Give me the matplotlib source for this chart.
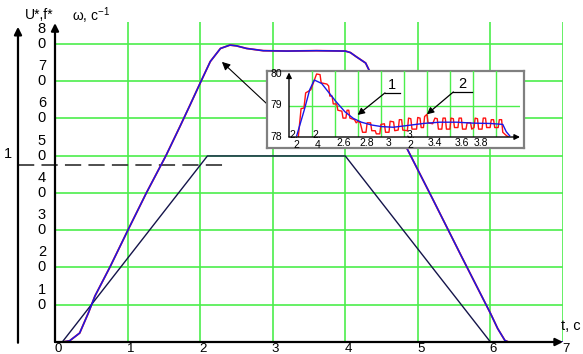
import matplotlib
matplotlib.use("Agg")
import matplotlib.pyplot as plt

plt.rcParams['font.family'] = ['Liberation Sans', 'DejaVu Sans']
plt.rcParams['mathtext.default'] = 'regular'

# speed omega, rad/s, during start, steady run and braking
t_w = [0.0, 0.1, 0.2, 0.34, 0.46, 0.55, 0.76, 1.01, 1.26, 1.53, 1.72, 1.86, 2.0,
       2.14, 2.28, 2.41, 2.5, 2.64, 2.87, 3.2, 3.6, 4.0, 4.07, 4.15, 4.28, 4.34,
       4.5, 4.86, 5.2, 5.6, 6.0, 6.1, 6.2, 6.25, 7.0]
w = [0, 0, 0.3, 2.4, 7.8, 12.3, 20.2, 30.2, 40, 50, 57.7, 63.5, 69.4,
     75.2, 78.7, 79.6, 79.4, 78.7, 78.1, 78.0, 78.1, 78.0, 77.6, 76.5, 74.8, 72.4,
     65.5, 51.5, 38.5, 23.0, 7.7, 3.6, 0.4, 0, 0]

# voltage / frequency reference U*, f* (per unit)
t_u = [0.1, 2.1, 4.0, 6.0]
u = [0, 1.05, 1.05, 0]
u_scale = 47.5  # omega units per 1 p.u.

# zoomed part of the plateau: 1 - blue, 2 - red
ti_b = [2.267, 2.30, 2.333, 2.38, 2.42, 2.484, 2.54, 2.61, 2.687, 2.76, 2.83,
        2.92, 3.006, 3.107, 3.22, 3.37, 3.51, 3.66, 3.80, 3.95, 4.06, 4.09, 4.12]
wi_b = [78.04, 78.45, 78.86, 79.5, 79.81, 79.7, 79.44, 79.12, 78.8, 78.59, 78.47,
        78.38, 78.33, 78.31, 78.36, 78.43, 78.47, 78.47, 78.44, 78.43, 78.40, 78.17, 78.04]

ti_r = [2.281, 2.305, 2.33, 2.345, 2.39, 2.41, 2.44, 2.47, 2.48, 2.53, 2.545,
        2.555, 2.575, 2.585, 2.615, 2.625, 2.66, 2.67, 2.695, 2.705, 2.72, 2.73,
        2.77, 2.785, 2.8, 2.82, 2.84, 2.87, 2.88, 2.91, 2.92, 2.95, 2.96, 2.99,
        3.0, 3.03, 3.04, 3.07, 3.08, 3.11, 3.12, 3.15, 3.16, 3.18, 3.19, 3.23,
        3.24, 3.26, 3.27, 3.31, 3.32, 3.34, 3.35, 3.37, 3.38, 3.40, 3.41, 3.45,
        3.47, 3.49, 3.50, 3.53, 3.54, 3.56, 3.57, 3.60, 3.61, 3.63, 3.64, 3.67,
        3.68, 3.70, 3.71, 3.74, 3.75, 3.78, 3.79, 3.81, 3.82, 3.84, 3.85, 3.88,
        3.89, 3.91, 3.92, 3.95, 3.96, 3.98, 3.99, 4.02, 4.03, 4.05, 4.06, 4.09, 4.11]
wi_r = [78.0, 78.9, 78.92, 79.4, 79.5, 79.7, 80.0, 79.98, 79.72, 79.68, 79.62,
        79.3, 79.3, 79.05, 79.05, 78.85, 78.82, 78.6, 78.6, 78.85, 78.85, 78.6,
        78.55, 78.45, 78.5, 78.45, 78.15, 78.15, 78.45, 78.45, 78.2, 78.2, 78.1, 78.1,
        78.4, 78.42, 78.15, 78.15, 78.5, 78.48, 78.2, 78.22, 78.55, 78.55, 78.22, 78.2,
        78.6, 78.58, 78.25, 78.25, 78.62, 78.6, 78.3, 78.3, 78.65, 78.72, 78.45, 78.42,
        78.6, 78.58, 78.25, 78.25, 78.6, 78.6, 78.25, 78.25, 78.6, 78.58, 78.3, 78.3,
        78.6, 78.6, 78.25, 78.25, 78.45, 78.45, 78.25, 78.3, 78.6, 78.58, 78.25, 78.25,
        78.6, 78.6, 78.3, 78.3, 78.55, 78.55, 78.3, 78.3, 78.55, 78.55, 78.15, 78.05, 78.0]

x_ticks = [0, 1, 2, 3, 4, 5, 6, 7]
y_ticks = [10, 20, 30, 40, 50, 60, 70, 80]
inset_xt = [2.4, 2.6, 2.8, 3.0, 3.2, 3.4, 3.6, 3.8, 4.0]
inset_yt = [78, 79, 80]

green = '#4cee4c'
navy = '#14144a'

fig = plt.figure(figsize=(5.83, 3.54), dpi=100)
ax = fig.add_axes([55 / 583, 1 - 342 / 354, 508 / 583, 320 / 354])
ax.set_xlim(0, 7)
ax.set_ylim(0, 320 / 3.73)
ax.set_xticks(x_ticks[1:])
ax.set_yticks(y_ticks)
ax.grid(True, color=green, lw=1.2)
ax.tick_params(length=0, labelleft=False, labelbottom=False)
for s in ax.spines.values():
    s.set_visible(False)

# curves
ax.plot(t_w, w, color='#ff1010', lw=1.3, zorder=3)
ax.plot(t_w, w, color='#1818e8', lw=1.1, zorder=4)
ax.plot(t_u, [v * u_scale for v in u], color=navy, lw=1.0, zorder=3)
ax.plot([-0.51, 2.34], [u_scale, u_scale], color='#404040', lw=1.3,
        dashes=(9, 4), clip_on=False, zorder=2)

# axes with arrows
arr = dict(arrowstyle='-|>', color='black', lw=1.6, mutation_scale=11, shrinkA=0, shrinkB=0)
ax.annotate('', xy=(0, 85.5), xytext=(0, 0), arrowprops=arr, annotation_clip=False, zorder=5)
ax.annotate('', xy=(-0.51, 84.5), xytext=(-0.51, -0.2), arrowprops=arr, annotation_clip=False)
ax.annotate('', xy=(7.0, 0), xytext=(0, 0), arrowprops=arr, annotation_clip=False, zorder=5)

for v in y_ticks:
    ax.text(-0.18, v + 4.0, str(v // 10), ha='center', va='center', fontsize=10.5)
    ax.text(-0.18, v, '0', ha='center', va='center', fontsize=10.5)
for v in x_ticks:
    ax.text(v + 0.04, -0.4, str(v), ha='center', va='top', fontsize=9.5)
ax.text(-0.65, u_scale + 1, '1', ha='center', va='bottom', fontsize=10.5)
ax.text(-0.22, 87.6, 'U*,f*', ha='center', va='center', fontsize=10)
ax.text(0.5, 87.6, 'ω, c$^{-1}$', ha='center', va='center', fontsize=10)
ax.text(7.11, 4.3, 't, c', ha='center', va='center', fontsize=10.5)

# pointer from the zoom box to the speed peak
ax.annotate('', xy=(2.30, 75.1), xytext=(2.95, 63.3),
            arrowprops=dict(arrowstyle='-|>', color='black', lw=0.8, mutation_scale=12,
                            shrinkA=0, shrinkB=0))

# zoom box
box = fig.add_axes([267 / 583, 1 - 148 / 354, 257 / 583, 77 / 354])
box.set_xticks([])
box.set_yticks([])
for s in box.spines.values():
    s.set_color('#808080')
    s.set_linewidth(1.6)

ai = fig.add_axes([289 / 583, 1 - 137 / 354, 231 / 583, 66 / 354])
ai.patch.set_alpha(0)
ai.set_xlim(2.2, 4.21)
ai.set_ylim(78, 78 + 66 / 31.5)
ai.set_xticks(inset_xt)
ai.set_yticks([79])
ai.grid(True, color=green, lw=1.0)
ai.tick_params(length=0, labelleft=False, labelbottom=False)
for s in ai.spines.values():
    s.set_visible(False)

ai.plot(ti_r, wi_r, color='#ff1010', lw=1.0, zorder=3)
ai.plot(ti_b, wi_b, color='#1818e8', lw=1.0, zorder=4)

arr_i = dict(arrowstyle='-|>', color='black', lw=1.0, mutation_scale=8, shrinkA=0, shrinkB=0)
ai.annotate('', xy=(2.2, 80.05), xytext=(2.2, 78), arrowprops=arr_i, annotation_clip=False, zorder=5)
ai.annotate('', xy=(4.21, 78), xytext=(2.2, 78), arrowprops=arr_i, annotation_clip=False, zorder=5)

for v in inset_yt:
    ai.text(2.087, v, str(v), ha='center', va='center', fontsize=7.5)
fs = 7.5
ai.text(2.243, 78.05, '2.', ha='center', va='center', fontsize=fs)
ai.text(2.267, 77.75, '2', ha='center', va='center', fontsize=fs)
ai.text(2.44, 78.05, '2.', ha='center', va='center', fontsize=fs)
ai.text(2.45, 77.75, '4', ha='center', va='center', fontsize=fs)
ai.text(2.672, 77.80, '2.6', ha='center', va='center', fontsize=fs)
ai.text(2.876, 77.80, '2.8', ha='center', va='center', fontsize=fs)
ai.text(3.064, 77.80, '3', ha='center', va='center', fontsize=fs)
ai.text(3.258, 78.05, '3.', ha='center', va='center', fontsize=fs)
ai.text(3.258, 77.75, '2', ha='center', va='center', fontsize=fs)
ai.text(3.47, 77.80, '3.4', ha='center', va='center', fontsize=fs)
ai.text(3.70, 77.80, '3.6', ha='center', va='center', fontsize=fs)
ai.text(3.867, 77.80, '3.8', ha='center', va='center', fontsize=fs)

# curve numbers with leaders
lead = dict(arrowstyle='-|>', color='black', lw=0.9, mutation_scale=10, shrinkA=0, shrinkB=0)
ai.plot([3.035, 3.165], [79.40, 79.40], color='black', lw=0.9)
ai.text(3.10, 79.42, '1', ha='center', va='bottom', fontsize=10.5)
ai.annotate('', xy=(2.797, 78.70), xytext=(3.035, 79.40), arrowprops=lead)
ai.plot([3.63, 3.79], [79.43, 79.43], color='black', lw=0.9)
ai.text(3.71, 79.45, '2', ha='center', va='bottom', fontsize=10.5)
ai.annotate('', xy=(3.40, 78.72), xytext=(3.63, 79.43), arrowprops=lead)

fig.savefig('out.png', dpi=100)
